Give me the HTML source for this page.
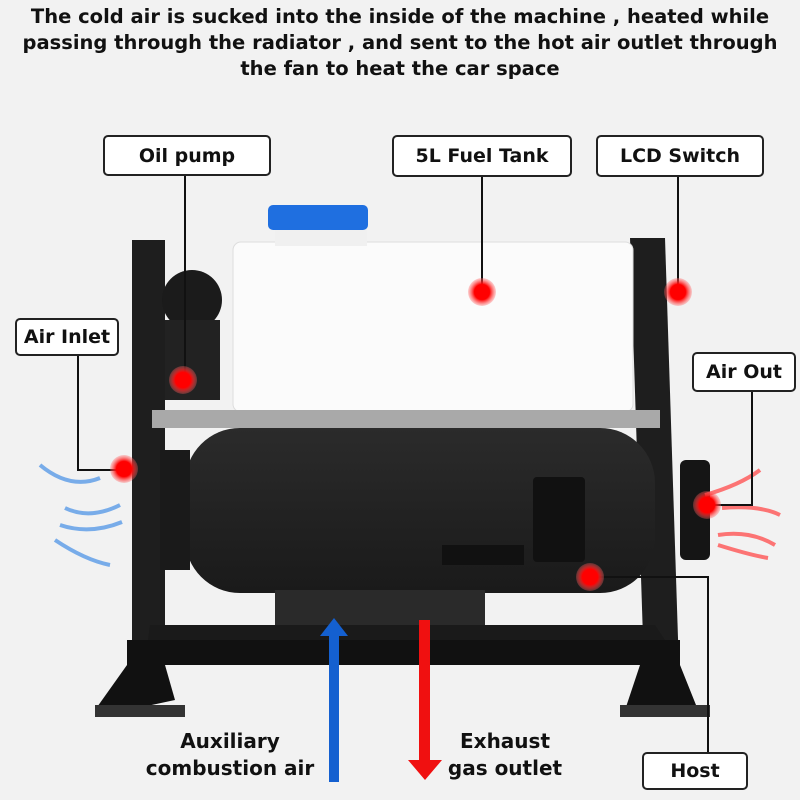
<!DOCTYPE html>
<html><head><meta charset="utf-8"><style>
body{margin:0;width:800px;height:800px;background:#f2f2f2;overflow:hidden;font-family:"DejaVu Sans","Liberation Sans",sans-serif}
.hdr{position:absolute;top:4px;left:0;width:800px;text-align:center;font-weight:bold;font-size:19.5px;line-height:26px;color:#111}
.lb{position:absolute;border:2px solid #222;border-radius:5px;background:#fff;font-weight:bold;font-size:19px;display:flex;align-items:center;justify-content:center;color:#111;box-sizing:border-box}
.t{position:absolute;font-weight:bold;font-size:20px;text-align:center;line-height:27px;color:#111}
</style></head><body>
<div class="hdr">The cold air is sucked into the inside of the machine , heated while<br>passing through the radiator , and sent to the hot air outlet through<br>the fan to heat the car space</div>
<svg width="800" height="800" style="position:absolute;left:0;top:0">
<defs>
<linearGradient id="bg" x1="0" x2="0" y1="0" y2="1"><stop offset="0" stop-color="#2b2b2b"/><stop offset="1" stop-color="#1a1a1a"/></linearGradient>
<radialGradient id="dot"><stop offset="0.55" stop-color="#f00"/><stop offset="1" stop-color="#f66" stop-opacity="0.3"/></radialGradient>
</defs>
<polygon points="132,240 165,240 165,700 132,700" fill="#1e1e1e"/>
<polygon points="630,238 665,238 680,700 645,700" fill="#1e1e1e"/>
<ellipse cx="192" cy="300" rx="30" ry="30" fill="#1b1b1b"/>
<rect x="165" y="320" width="55" height="80" fill="#222"/>
<rect x="233" y="242" width="400" height="170" rx="8" fill="#fbfbfb" stroke="#ddd"/>
<rect x="275" y="228" width="92" height="18" fill="#f0f0f0"/>
<rect x="268" y="205" width="100" height="25" rx="5" fill="#1f6fe0"/>
<rect x="152" y="410" width="508" height="18" fill="#a9a9a9"/>
<rect x="185" y="428" width="470" height="165" rx="55" fill="url(#bg)"/>
<rect x="160" y="450" width="30" height="120" fill="#1a1a1a"/>
<rect x="680" y="460" width="30" height="100" rx="6" fill="#151515"/>
<rect x="533" y="477" width="52" height="85" rx="4" fill="#111"/>
<rect x="442" y="545" width="82" height="20" fill="#111"/>
<rect x="275" y="590" width="210" height="40" fill="#2a2a2a"/>
<polygon points="150,625 655,625 665,640 148,640" fill="#1a1a1a"/>
<rect x="127" y="640" width="553" height="25" fill="#111"/>
<polygon points="127,665 165,665 175,700 105,715 95,710" fill="#111"/>
<polygon points="640,665 680,665 700,715 625,710" fill="#111"/>
<rect x="95" y="705" width="90" height="12" fill="#333"/>
<rect x="620" y="705" width="90" height="12" fill="#333"/>
<rect x="329" y="632" width="10" height="150" fill="#1460d0"/>
<polygon points="320,636 348,636 334,618" fill="#1460d0"/>
<rect x="419" y="620" width="11" height="140" fill="#f01010"/>
<polygon points="408,760 442,760 425,780" fill="#f01010"/>
<g stroke="#5a9be8" stroke-width="4" fill="none" opacity="0.8">
<path d="M40,465 Q70,490 100,478"/><path d="M65,508 Q90,520 120,505"/><path d="M60,525 Q90,535 122,522"/><path d="M55,540 Q85,560 110,565"/>
</g>
<g stroke="#f55" stroke-width="4" fill="none" opacity="0.8">
<path d="M705,495 Q740,485 760,470"/><path d="M722,508 Q760,505 780,515"/><path d="M718,535 Q750,530 775,545"/><path d="M718,545 Q750,555 768,558"/>
</g>
<g stroke="#111" stroke-width="2" fill="none">
<polyline points="185,175 185,380"/>
<polyline points="482,177 482,292"/>
<polyline points="678,177 678,292"/>
<polyline points="78,356 78,470 124,470"/>
<polyline points="752,392 752,505 707,505"/>
<polyline points="590,577 708,577 708,752"/>
</g>
<g fill="url(#dot)">
<circle cx="482" cy="292" r="14"/><circle cx="678" cy="292" r="14"/><circle cx="183" cy="380" r="14"/>
<circle cx="124" cy="469" r="14"/><circle cx="707" cy="505" r="14"/><circle cx="590" cy="577" r="14"/>
</g>
</svg>
<div class="lb" style="left:103px;top:135px;width:168px;height:41px">Oil pump</div>
<div class="lb" style="left:392px;top:135px;width:180px;height:42px">5L Fuel Tank</div>
<div class="lb" style="left:596px;top:135px;width:168px;height:42px">LCD Switch</div>
<div class="lb" style="left:15px;top:318px;width:104px;height:38px">Air Inlet</div>
<div class="lb" style="left:692px;top:352px;width:104px;height:40px">Air Out</div>
<div class="lb" style="left:642px;top:752px;width:106px;height:38px">Host</div>
<div class="t" style="left:130px;top:728px;width:200px">Auxiliary<br>combustion air</div>
<div class="t" style="left:430px;top:728px;width:150px">Exhaust<br>gas outlet</div>
</body></html>
